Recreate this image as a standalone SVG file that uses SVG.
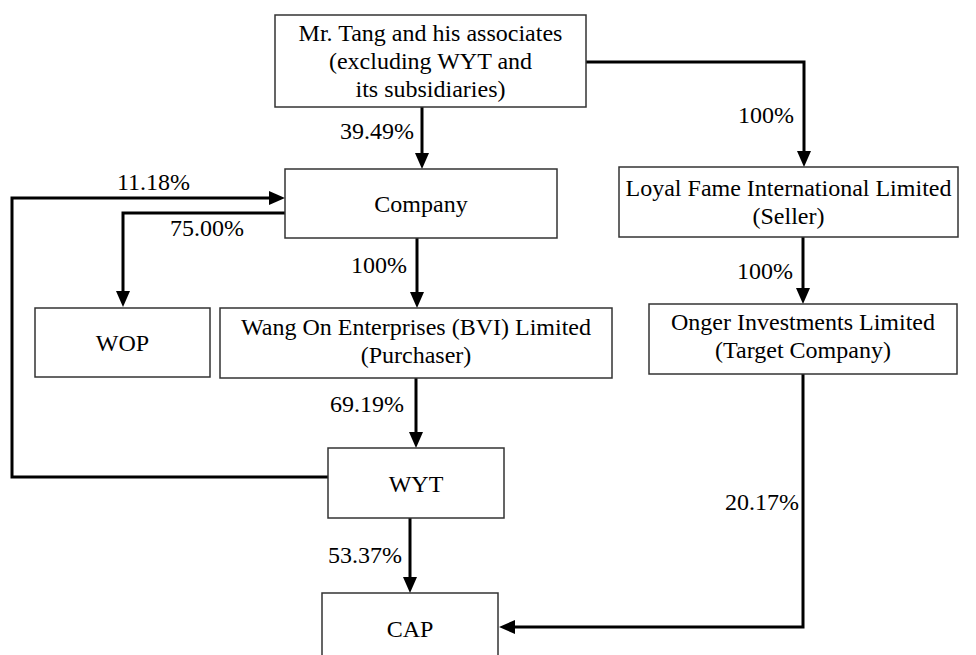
<svg xmlns="http://www.w3.org/2000/svg" width="976" height="655" viewBox="0 0 976 655">
<style>
.box{fill:#fff;stroke:#333;stroke-width:1.5}
.c{text-anchor:middle}
.r{text-anchor:end}
.ln{fill:none;stroke:#000;stroke-width:3;marker-end:url(#ah)}
</style>
<defs>
<marker id="ah" markerUnits="userSpaceOnUse" markerWidth="16" markerHeight="14" refX="8" refY="7" orient="auto" overflow="visible">
<path d="M0,0 L16,7 L0,14 Z" fill="#000"/>
</marker>
</defs>
<rect width="976" height="655" fill="#fff"/>
<g font-family="'Liberation Serif', 'Times New Roman', 'DejaVu Serif', serif" font-size="24" fill="#000">
<g id="connectors">
<path class="ln" d="M422,107 V161"/>
<path class="ln" d="M586,62 H804 V159"/>
<path class="ln" d="M285,213 H123 V299"/>
<path class="ln" d="M328,477 H12 V198 H277"/>
<path class="ln" d="M417,238 V300"/>
<path class="ln" d="M803,237 V296"/>
<path class="ln" d="M416,378 V440"/>
<path class="ln" d="M410,518 V585"/>
<path class="ln" d="M803,374 V627 H507"/>
</g>
<g id="labels">
<text class="r" x="414" y="139">39.49%</text>
<text class="r" x="794" y="123">100%</text>
<text x="117" y="190">11.18%</text>
<text x="170" y="236">75.00%</text>
<text class="r" x="407" y="273">100%</text>
<text class="r" x="793" y="279">100%</text>
<text class="r" x="404" y="412">69.19%</text>
<text class="r" x="799" y="510">20.17%</text>
<text class="r" x="402" y="563">53.37%</text>
</g>
<g id="node-tang">
<rect class="box" x="275" y="15" width="311" height="92"/>
<text class="c" x="430.5" y="41">Mr. Tang and his associates</text>
<text class="c" x="430.5" y="69">(excluding WYT and</text>
<text class="c" x="430.5" y="97">its subsidiaries)</text>
</g>
<g id="node-company">
<rect class="box" x="285" y="169" width="272" height="69"/>
<text class="c" x="421" y="212">Company</text>
</g>
<g id="node-loyal">
<rect class="box" x="619" y="167" width="339" height="70"/>
<text class="c" x="788.5" y="196">Loyal Fame International Limited</text>
<text class="c" x="788.5" y="224">(Seller)</text>
</g>
<g id="node-wop">
<rect class="box" x="35" y="308" width="175" height="69"/>
<text class="c" x="122.5" y="351">WOP</text>
</g>
<g id="node-wang">
<rect class="box" x="220" y="308" width="392" height="70"/>
<text class="c" x="416" y="335">Wang On Enterprises (BVI) Limited</text>
<text class="c" x="416" y="363">(Purchaser)</text>
</g>
<g id="node-onger">
<rect class="box" x="649" y="304" width="308" height="70"/>
<text class="c" x="803" y="330">Onger Investments Limited</text>
<text class="c" x="803" y="358">(Target Company)</text>
</g>
<g id="node-wyt">
<rect class="box" x="328" y="448" width="176" height="70"/>
<text class="c" x="416" y="492">WYT</text>
</g>
<g id="node-cap">
<rect class="box" x="322" y="593" width="176" height="72"/>
<text class="c" x="410" y="637">CAP</text>
</g>
</g>
</svg>
